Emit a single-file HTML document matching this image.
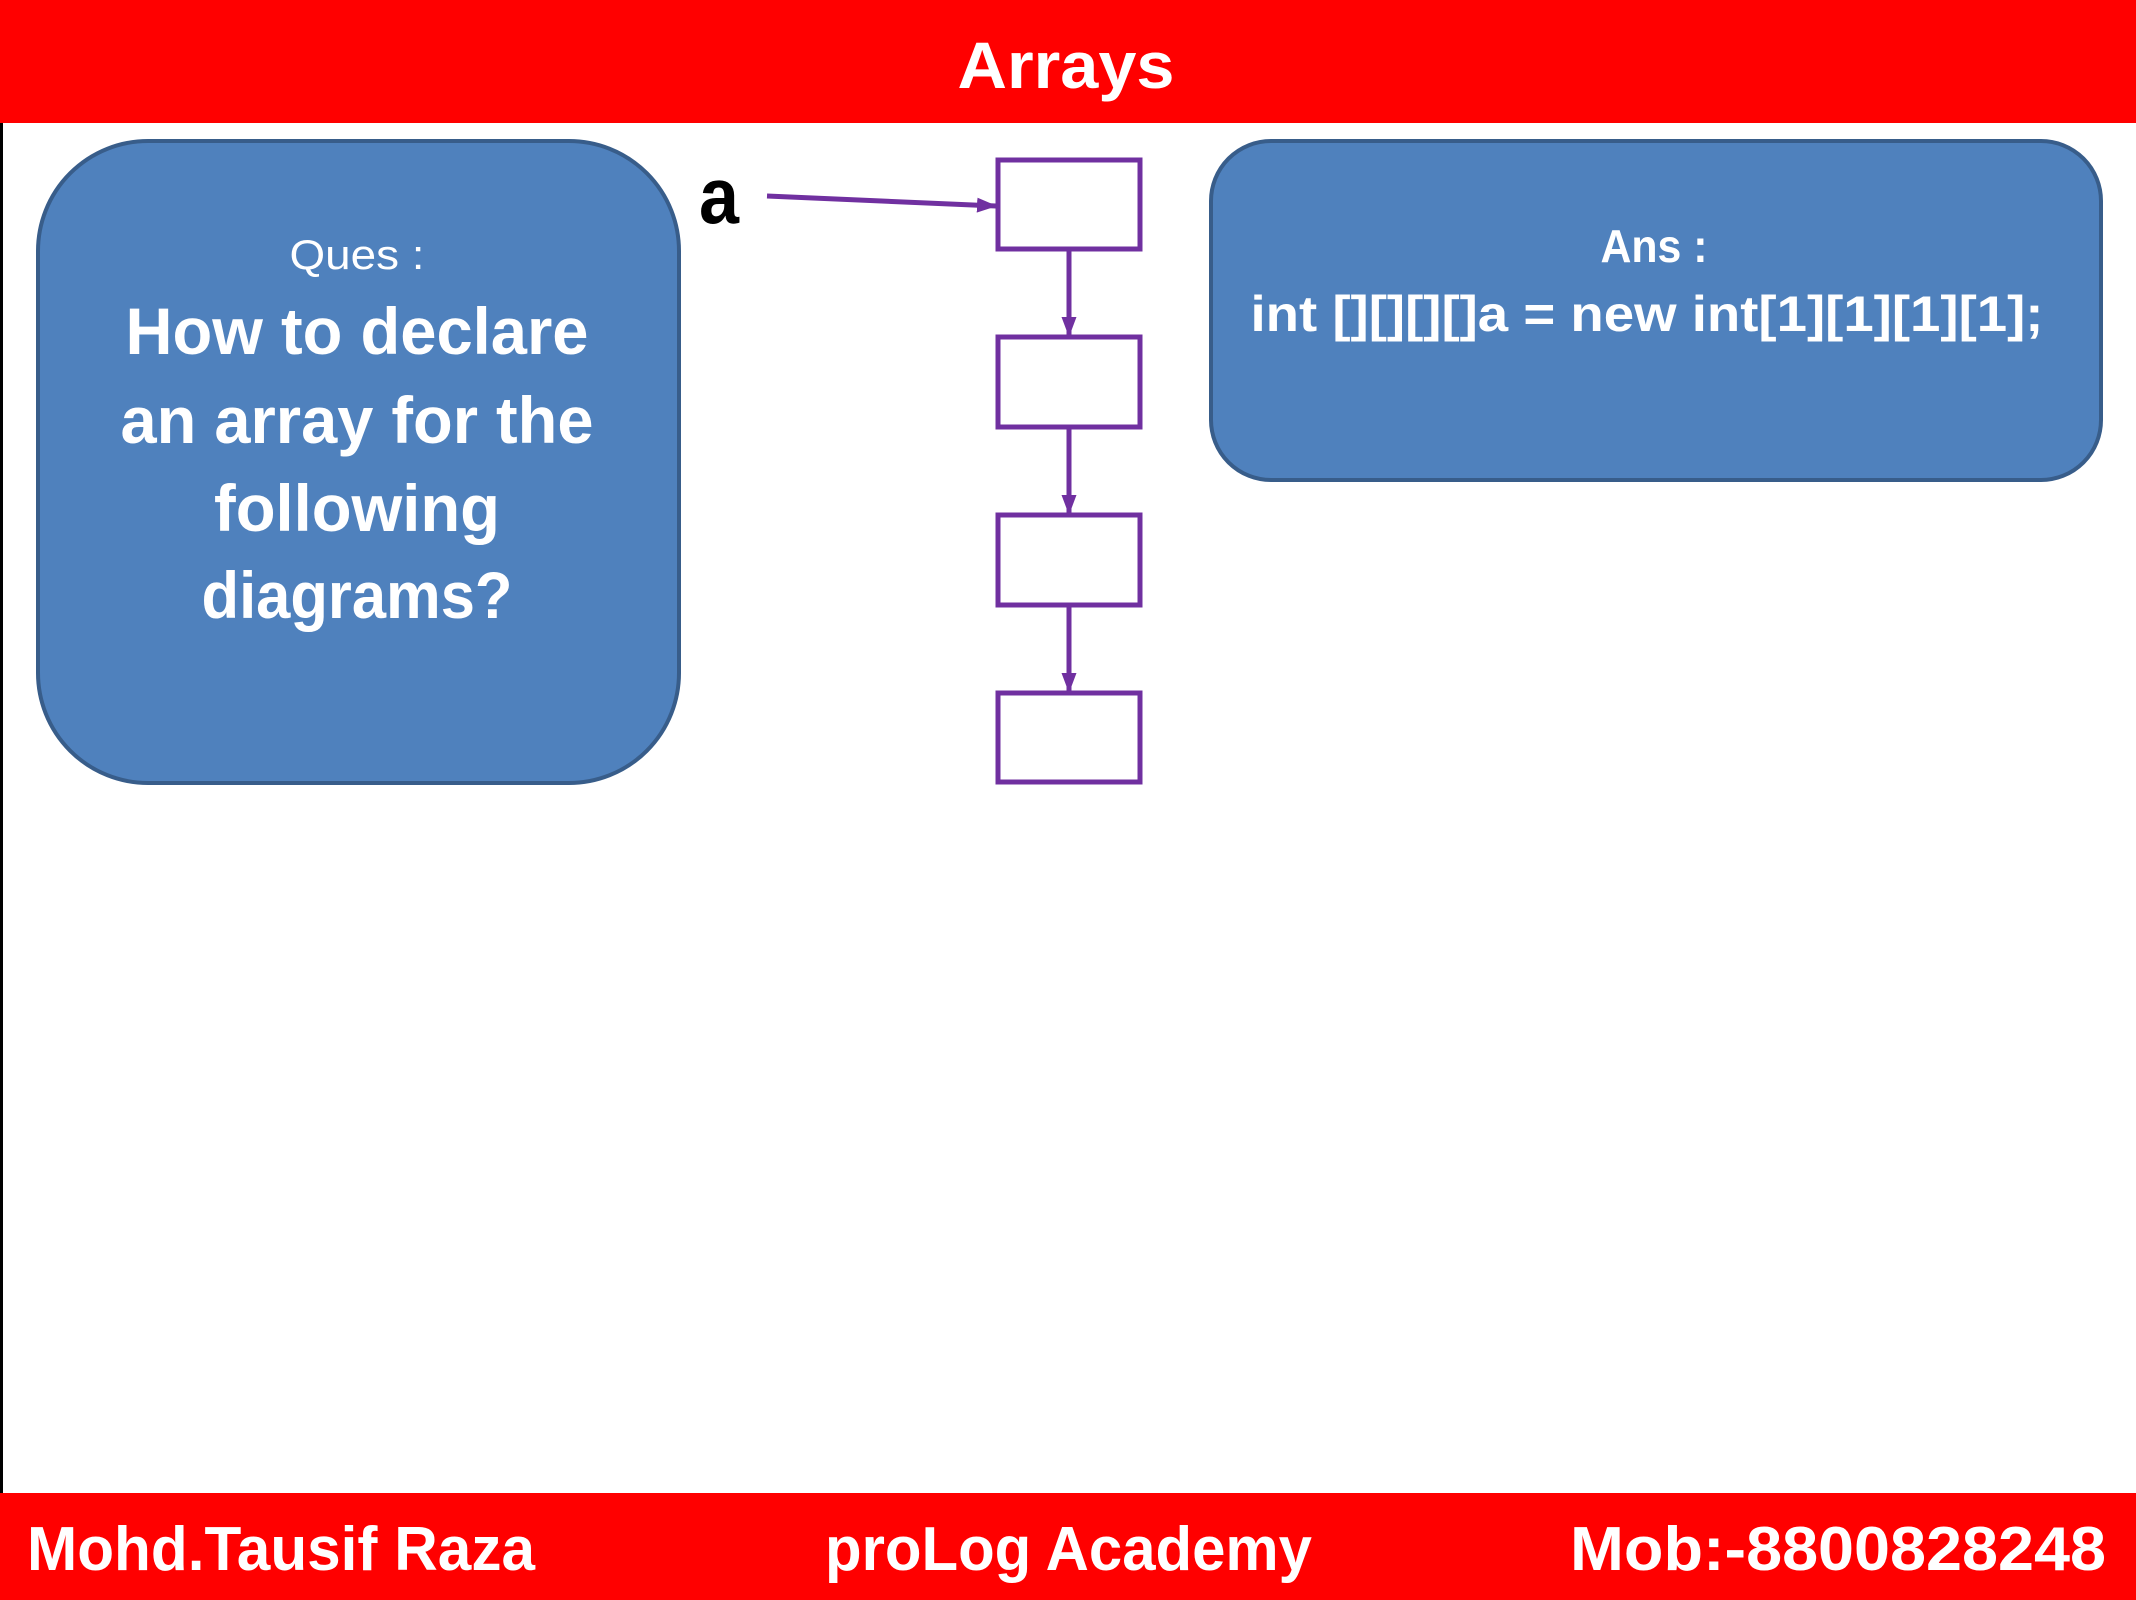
<!DOCTYPE html>
<html><head><meta charset="utf-8"><style>
html,body{margin:0;padding:0;background:#fff;}
svg{display:block;}
text{font-family:"Liberation Sans",sans-serif;}
</style></head><body>
<svg width="2136" height="1600" viewBox="0 0 2136 1600" xmlns="http://www.w3.org/2000/svg">
<defs>
<marker id="ah" markerWidth="4" markerHeight="3" refX="3.8" refY="1.5" orient="auto" markerUnits="strokeWidth">
<path d="M0,0 L4,1.5 L0,3 z" fill="#7030a0"/>
</marker>
</defs>
<rect x="0" y="0" width="2136" height="1600" fill="#fff"/>
<rect x="0" y="0" width="3" height="1600" fill="#000"/>
<rect x="0" y="0" width="2136" height="123" fill="#ff0000"/>
<text x="1066" y="88" font-size="66" font-weight="bold" fill="#fff" text-anchor="middle" textLength="217" lengthAdjust="spacingAndGlyphs">Arrays</text>

<rect x="38" y="141" width="641" height="642" rx="110" ry="110" fill="#4f81bd" stroke="#385d8a" stroke-width="4"/>
<g fill="#fff" text-anchor="middle">
<text x="357" y="269" font-size="42" textLength="135" lengthAdjust="spacingAndGlyphs">Ques :</text>
<text x="357" y="354" font-size="66" font-weight="bold" textLength="463" lengthAdjust="spacingAndGlyphs">How to declare</text>
<text x="357" y="443" font-size="66" font-weight="bold" textLength="473" lengthAdjust="spacingAndGlyphs">an array for the</text>
<text x="357" y="531" font-size="66" font-weight="bold" textLength="286" lengthAdjust="spacingAndGlyphs">following</text>
<text x="357" y="618" font-size="66" font-weight="bold" textLength="311" lengthAdjust="spacingAndGlyphs">diagrams?</text>
</g>

<text x="699" y="223" font-size="80" font-weight="bold" fill="#000" textLength="40" lengthAdjust="spacingAndGlyphs">a</text>
<line x1="767" y1="196" x2="996" y2="206" stroke="#7030a0" stroke-width="5" marker-end="url(#ah)"/>

<g fill="none" stroke="#7030a0" stroke-width="5">
<rect x="998" y="160" width="142" height="89"/>
<rect x="998" y="337" width="142" height="90"/>
<rect x="998" y="515" width="142" height="90"/>
<rect x="998" y="693" width="142" height="89"/>
</g>
<g stroke="#7030a0" stroke-width="5">
<line x1="1069" y1="249" x2="1069" y2="336" marker-end="url(#ah)"/>
<line x1="1069" y1="427" x2="1069" y2="514" marker-end="url(#ah)"/>
<line x1="1069" y1="605" x2="1069" y2="692" marker-end="url(#ah)"/>
</g>

<rect x="1211" y="141" width="890" height="339" rx="60" ry="60" fill="#4f81bd" stroke="#385d8a" stroke-width="4"/>
<g fill="#fff" text-anchor="middle" font-weight="bold">
<text x="1654" y="262" font-size="46" textLength="107" lengthAdjust="spacingAndGlyphs">Ans :</text>
<text x="1647" y="331" font-size="50" textLength="793" lengthAdjust="spacingAndGlyphs">int [][][][]a = new int[1][1][1][1];</text>
</g>

<rect x="0" y="1493" width="2136" height="107" fill="#ff0000"/>
<g fill="#fff" font-weight="bold" font-size="62">
<text x="27" y="1570" textLength="508" lengthAdjust="spacingAndGlyphs">Mohd.Tausif Raza</text>
<text x="825" y="1570" textLength="487" lengthAdjust="spacingAndGlyphs">proLog Academy</text>
<text x="1570" y="1570" textLength="536" lengthAdjust="spacingAndGlyphs">Mob:-8800828248</text>
</g>
</svg>
</body></html>
